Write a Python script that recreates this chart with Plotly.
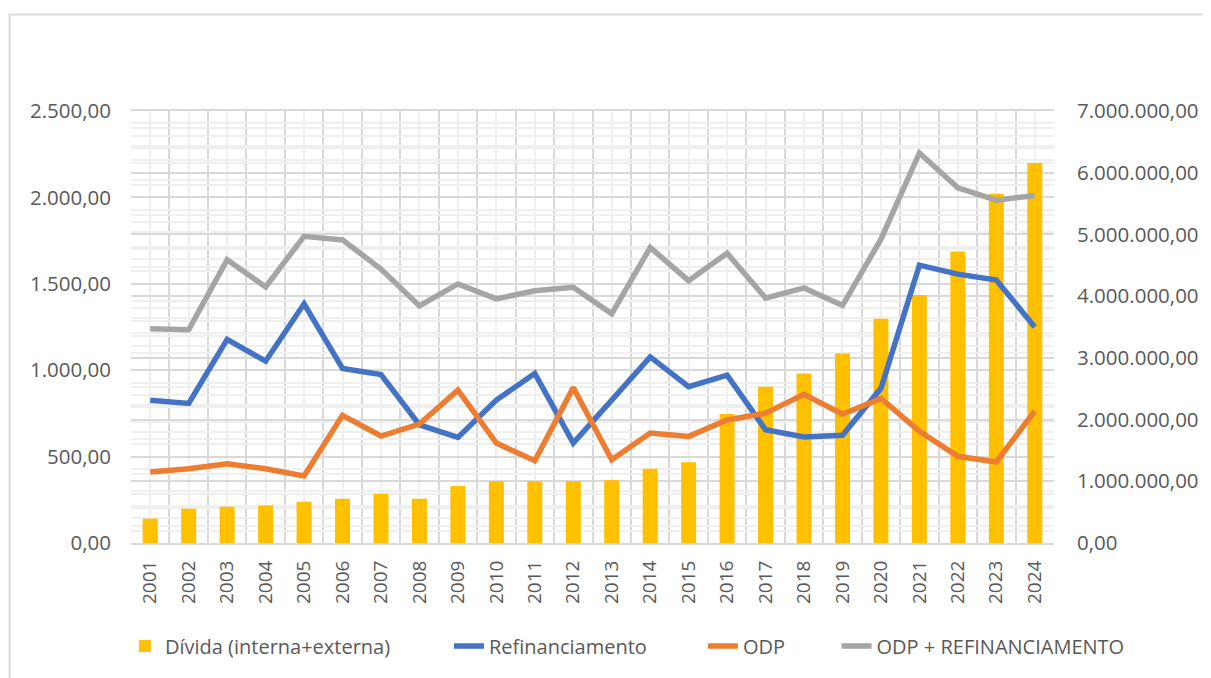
import plotly.graph_objects as go

years = list(range(2001, 2025))

# Dívida (interna+externa) - right axis
divida = [395000, 556000, 588000, 609000, 669000, 717000, 797000, 717000,
          922000, 1002000, 1002000, 1002000, 1018000, 1205000, 1308000, 2091000,
          2533000, 2747000, 3069000, 3633000, 4020000, 4724000, 5658000, 6158000]

# left axis series
refinanciamento = [826, 808, 1178, 1052, 1384, 1010, 975, 684,
                   611, 827, 981, 578, 827, 1077, 905, 971,
                   655, 613, 623, 895, 1608, 1556, 1522, 1250]

odp = [411, 430, 459, 430, 388, 739, 619, 688,
       885, 578, 476, 899, 482, 636, 617, 712,
       751, 860, 745, 837, 646, 502, 469, 764]

odp_refin = [1240, 1234, 1639, 1482, 1775, 1754, 1585, 1372,
             1499, 1413, 1460, 1480, 1326, 1710, 1518, 1677,
             1417, 1476, 1374, 1758, 2257, 2055, 1984, 2011]

FONT = "Open Sans"
TXT = "#595959"
GRID = "#d9d9d9"
GRID_MINOR = "#efefef"

# category boundaries for the darker vertical grid
boundaries = [y - 0.5 for y in years] + [years[-1] + 0.5]

fig = go.Figure()

fig.add_trace(go.Bar(
    x=years, y=divida, name="Dívida (interna+externa)",
    marker=dict(color="#FFC000", line=dict(width=0)),
    width=0.39, yaxis="y", legend="legend",
))
fig.add_trace(go.Scatter(
    x=years, y=refinanciamento, name="Refinanciamento", mode="lines",
    line=dict(color="#4472C4", width=5.5), yaxis="y2", legend="legend2",
))
fig.add_trace(go.Scatter(
    x=years, y=odp, name="ODP", mode="lines",
    line=dict(color="#ED7D31", width=5.5), yaxis="y2", legend="legend3",
))
fig.add_trace(go.Scatter(
    x=years, y=odp_refin, name="ODP + REFINANCIAMENTO", mode="lines",
    line=dict(color="#A5A5A5", width=5.5), yaxis="y2", legend="legend4",
))

legend_base = dict(
    orientation="h", yanchor="middle", y=-0.2386, xanchor="left",
    font=dict(family=FONT, size=20, color=TXT), bgcolor="rgba(0,0,0,0)",
)

# page body adds an 8px offset, so the figure is 8px smaller than the window
fig.update_layout(
    width=1203, height=670,
    margin=dict(l=123, r=152, t=103, b=132),
    paper_bgcolor="white", plot_bgcolor="white",
    separators=",.",
    font=dict(family=FONT, color=TXT),
    showlegend=True,
    legend=dict(legend_base, x=-0.0066),
    legend2=dict(legend_base, x=0.3445),
    legend3=dict(legend_base, x=0.6196),
    legend4=dict(legend_base, x=0.7644),
    xaxis=dict(
        range=[2000.5, 2024.5], tickmode="array", tickvals=years,
        ticktext=[str(y) for y in years], tickangle=-90,
        tickfont=dict(family=FONT, size=19, color=TXT),
        showgrid=True, gridcolor=GRID_MINOR, gridwidth=1.5,
        minor=dict(tickmode="array", tickvals=boundaries, showgrid=True,
                   gridcolor=GRID, gridwidth=2),
        showline=True, linecolor=GRID, linewidth=2, mirror=True,
        ticks="", zeroline=False, ticklabelstandoff=8,
    ),
    yaxis=dict(
        side="right", range=[0, 7000000], dtick=1000000,
        tickformat=",.2f", tickfont=dict(family=FONT, size=20.5, color=TXT),
        showgrid=True, gridcolor=GRID, gridwidth=2,
        minor=dict(dtick=200000, showgrid=True, gridcolor=GRID_MINOR, gridwidth=1.5),
        zeroline=False, ticks="", ticklabelstandoff=22,
    ),
    yaxis2=dict(
        side="left", overlaying="y", range=[0, 2500], dtick=500,
        tickformat=",.2f", tickfont=dict(family=FONT, size=20.5, color=TXT),
        showgrid=True, gridcolor=GRID, gridwidth=2,
        minor=dict(dtick=100, showgrid=True, gridcolor=GRID_MINOR, gridwidth=1.5),
        zeroline=False, ticks="", ticklabelstandoff=19,
    ),
    shapes=[dict(
        type="rect", xref="paper", yref="paper",
        x0=-0.1315, x1=1.5, y0=1.2233, y1=-0.5,
        line=dict(color=GRID, width=2), fillcolor="rgba(0,0,0,0)", layer="below",
    )],
)

fig.write_html("out.html")
